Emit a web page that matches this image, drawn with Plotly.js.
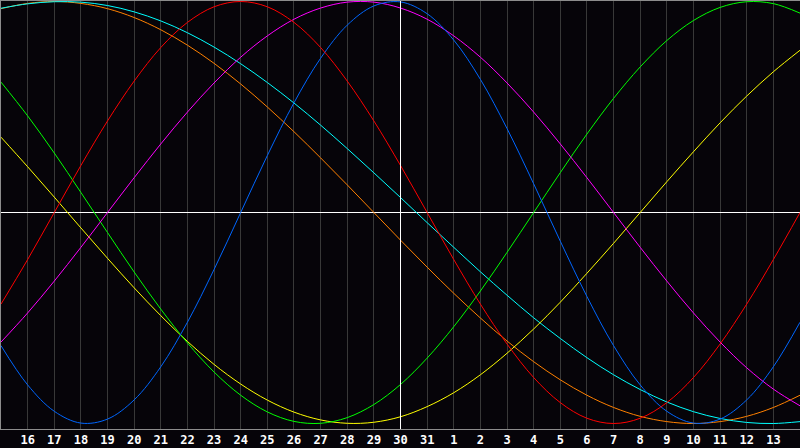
<!DOCTYPE html>
<html>
<head>
<meta charset="utf-8">
<script src="https://cdn.plot.ly/plotly-3.0.1.min.js"></script>
<style>html,body{margin:0;padding:0;background:#060409;}#chart{width:800px;height:448px;}</style>
</head>
<body>
<div id="chart"></div>
<script>
// Days shown on the x axis (first and last are edge days without labels)
const days = [15,16,17,18,19,20,21,22,23,24,25,26,27,28,29,30,31,1,2,3,4,5,6,7,8,9,10,11,12,13,14];
const todayLabel = 30;

// Cycle values (%), one per day
const red     = [-43.4,-22.3,0,22.3,43.4,62.3,78.2,90.1,97.5,100,97.5,90.1,78.2,62.3,43.4,22.3,0,-22.3,-43.4,-62.3,-78.2,-90.1,-97.5,-100,-97.5,-90.1,-78.2,-62.3,-43.4,-22.3,0];
const blue    = [-63.1,-81.7,-94.2,-99.8,-97.9,-88.8,-73.1,-52,-27,0,27,52,73.1,88.8,97.9,99.8,94.2,81.7,63.1,39.8,13.6,-13.6,-39.8,-63.1,-81.7,-94.2,-99.8,-97.9,-88.8,-73.1,-52];
const green   = [61.8,45.8,28.2,9.5,-9.5,-28.2,-45.8,-61.8,-75.6,-86.6,-94.5,-99,-99.9,-97.2,-91,-81.5,-69,-54.1,-37.2,-18.9,0,18.9,37.2,54.1,69,81.5,91,97.2,99.9,99,94.5];
const magenta = [-61.4,-47.6,-32.5,-16.5,0,16.5,32.5,47.6,61.4,73.6,83.7,91.6,96.9,99.7,99.7,96.9,91.6,83.7,73.6,61.4,47.6,32.5,16.5,0,-16.5,-32.5,-47.6,-61.4,-73.6,-83.7,-91.6];
const yellow  = [35.7,21.7,7.3,-7.3,-21.7,-35.7,-48.9,-61.1,-72,-81.3,-88.9,-94.6,-98.3,-99.9,-99.4,-96.8,-92,-85.4,-76.9,-66.7,-55.2,-42.5,-28.8,-14.6,0,14.6,28.8,42.5,55.2,66.7,76.9];
const orange  = [96.6,99.1,100,99.1,96.6,92.4,86.6,79.3,70.7,60.9,50,38.3,25.9,13.1,0,-13.1,-25.9,-38.3,-50,-60.9,-70.7,-79.3,-86.6,-92.4,-96.6,-99.1,-100,-99.1,-96.6,-92.4,-86.6];
const cyan    = [96.8,98.9,99.9,99.7,98.1,95.1,90.8,85.2,78.4,70.5,61.6,51.9,41.4,30.3,18.8,7.1,-4.8,-16.5,-28.1,-39.2,-49.9,-59.7,-68.8,-76.9,-83.9,-89.8,-94.4,-97.6,-99.5,-100,-99.1];

const idx = days.map((d, i) => i);
const tickIdx = idx.slice(1, idx.length - 1);
const tickTxt = days.slice(1, days.length - 1).map(String);
const todayIdx = days.indexOf(todayLabel);

const series = [
  {y: orange,  color: '#ff8000'},
  {y: cyan,    color: '#00ffff'},
  {y: yellow,  color: '#ffff00'},
  {y: green,   color: '#00ff00'},
  {y: magenta, color: '#ff00ff'},
  {y: blue,    color: '#0066ff'},
  {y: red,     color: '#ff0000'}
];

const traces = series.map(s => ({
  x: idx, y: s.y, type: 'scatter', mode: 'lines',
  line: {color: s.color, width: 1, shape: 'spline', smoothing: 1},
  hoverinfo: 'skip', showlegend: false
}));

const layout = {
  width: 800, height: 448,
  margin: {l: 1, r: 0, t: 1, b: 19, pad: 0},
  paper_bgcolor: '#060409', plot_bgcolor: '#060409',
  showlegend: false,
  xaxis: {
    range: [0, idx.length - 1], tickvals: tickIdx, ticktext: tickTxt,
    showgrid: true, gridcolor: '#383838', gridwidth: 1,
    zeroline: false, showline: true, linecolor: '#8c8c8c', linewidth: 1, mirror: true,
    ticks: '', tickfont: {family: 'DejaVu Sans Mono', size: 12, color: '#ffffff', weight: 'bold'},
    fixedrange: true
  },
  yaxis: {
    range: [-102.6, 100.24], showticklabels: false, showgrid: false,
    zeroline: true, zerolinecolor: '#ffffff', zerolinewidth: 1,
    showline: true, linecolor: '#8c8c8c', linewidth: 1, ticks: '',
    fixedrange: true
  },
  shapes: [{
    type: 'line', xref: 'x', yref: 'paper', x0: todayIdx, x1: todayIdx, y0: 0, y1: 1,
    line: {color: '#ffffff', width: 1}, layer: 'above'
  }]
};

Plotly.newPlot('chart', traces, layout, {staticPlot: true, displayModeBar: false});
</script>
</body>
</html>
